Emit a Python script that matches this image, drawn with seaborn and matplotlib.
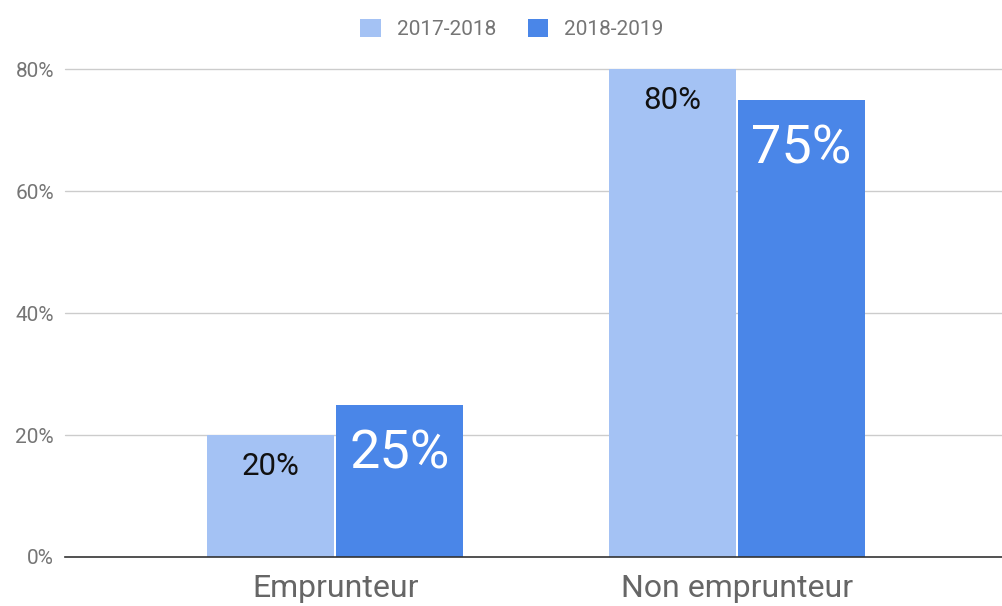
import matplotlib
matplotlib.use("Agg")
import matplotlib.pyplot as plt
import seaborn as sns
import pandas as pd
from matplotlib.patches import Patch

categories = ["Emprunteur", "Non emprunteur"]
periods = ["2017-2018", "2018-2019"]
values_2017 = [20, 80]
values_2018 = [25, 75]
yticks = [0, 20, 40, 60, 80]

colors = {"2017-2018": "#A4C2F4", "2018-2019": "#4A86E8"}

df = pd.DataFrame({
    "cat": categories * 2,
    "period": [periods[0]] * 2 + [periods[1]] * 2,
    "value": values_2017 + values_2018,
})

sns.set_theme(style="white")
plt.rcParams["font.family"] = ["Roboto", "DejaVu Sans"]

fig = plt.figure(figsize=(10.02, 6.06), dpi=100)
ax = fig.add_axes([0.0649, 0.0809, 0.9351, 0.886 - 0.0809])

sns.barplot(data=df, x="cat", y="value", hue="period", order=categories,
            hue_order=periods, palette=colors, width=0.642, gap=0.015,
            ax=ax, legend=False, saturation=1, edgecolor="none")

ax.set_xlim(-0.672, 1.659)
ax.set_ylim(0, 80)
ax.set_yticks(yticks)
ax.set_yticklabels([f"{v}%" for v in yticks], color="#757575", fontsize=15)
ax.tick_params(axis="y", length=0, pad=8)
ax.tick_params(axis="x", length=0, pad=12, labelsize=23, labelcolor="#666666")
ax.set_xlabel("")
ax.set_ylabel("")
for s in ["top", "right", "left"]:
    ax.spines[s].set_visible(False)
ax.spines["bottom"].set_color("#333333")
ax.spines["bottom"].set_linewidth(1.2)
for v in yticks[1:]:
    ax.axhline(v, color="#cccccc", lw=1, zorder=0, clip_on=False)

# labels
bars = [p for p in ax.patches if p.get_height() > 0]
n = len(categories)
for i, p in enumerate(bars):
    x = p.get_x() + p.get_width() / 2
    h = p.get_height()
    if i < n:
        ax.text(x, h - 6.6, f"{int(round(h))}%", ha="center", va="baseline",
                fontsize=22.5, color="#111111")
    else:
        ax.text(x, h - 10.5, f"{int(round(h))}%", ha="center", va="baseline",
                fontsize=39, color="white")

handles = [Patch(facecolor=colors[p], edgecolor="none") for p in periods]
fig.legend(handles, periods, loc="upper center", bbox_to_anchor=(0.511, 1.0),
           ncol=2, frameon=False, fontsize=15, labelcolor="#757575",
           handlelength=1.0, handleheight=1.0, columnspacing=1.5, handletextpad=0.77)

fig.savefig("out.png", dpi=100)
